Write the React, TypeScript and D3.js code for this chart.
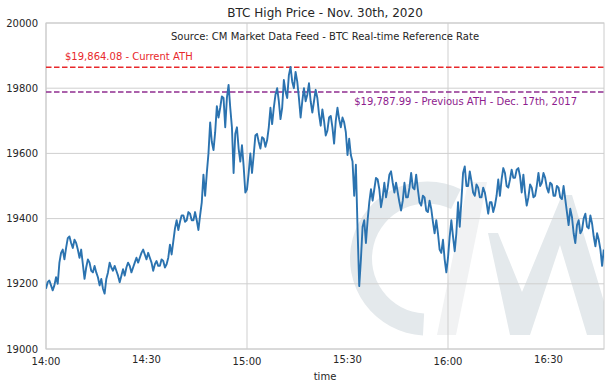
import React from 'react';
import * as d3 from 'd3';

// ---- data ----
const startTime = '2020-11-30T14:00:00';
const endTime = '2020-11-30T16:46:34';
// per-minute low / high of the BTC real-time reference rate, from 14:00
const minuteLow = [
  19185, 19195, 19180, 19200, 19265, 19275, 19310, 19325, 19310, 19305,
  19280, 19215, 19250, 19240, 19235, 19220, 19195, 19170, 19215, 19250,
  19240, 19225, 19205, 19225, 19250, 19235, 19250, 19265, 19280, 19290,
  19275, 19265, 19240, 19255, 19255, 19250, 19260, 19290, 19330, 19365,
  19390, 19390, 19395, 19395, 19395, 19365, 19410, 19470, 19540, 19635,
  19610, 19710, 19740, 19680, 19770, 19680, 19540, 19615, 19575, 19480,
  19490, 19540, 19595, 19635, 19615, 19620, 19640, 19690, 19740, 19760,
  19705, 19790, 19770, 19820, 19800, 19770, 19710, 19760, 19780, 19725,
  19760, 19720, 19685, 19655, 19670, 19680, 19630, 19705, 19680, 19665,
  19595, 19575, 19470, 19193, 19275, 19325, 19395, 19455, 19490, 19490,
  19435, 19465, 19495, 19510, 19480, 19450, 19425, 19465, 19465, 19495,
  19490, 19450, 19440, 19425, 19420, 19390, 19355, 19305, 19295, 19235,
  19280, 19345, 19300, 19375, 19455, 19500, 19500, 19480, 19470, 19465,
  19465, 19450, 19415, 19420, 19440, 19470, 19520, 19500, 19495, 19525,
  19525, 19530, 19480, 19440, 19465, 19465, 19470, 19500, 19510, 19495,
  19480, 19470, 19470, 19465, 19460, 19420, 19380, 19355, 19325, 19355,
  19365, 19375, 19370, 19345, 19315, 19305, 19255,
];
const minuteHigh = [
  19205, 19210, 19195, 19220, 19295, 19305, 19340, 19345, 19335, 19325,
  19305, 19260, 19275, 19265, 19255, 19235, 19215, 19185, 19235, 19265,
  19255, 19240, 19225, 19245, 19265, 19255, 19265, 19280, 19295, 19305,
  19295, 19280, 19260, 19270, 19275, 19270, 19280, 19320, 19370, 19395,
  19410, 19410, 19420, 19415, 19420, 19395, 19450, 19535, 19600, 19695,
  19665, 19745, 19775, 19770, 19810, 19740, 19660, 19680, 19625, 19560,
  19540, 19600, 19655, 19660, 19650, 19645, 19680, 19740, 19780, 19800,
  19740, 19825, 19840, 19865, 19850, 19820, 19760, 19800, 19815, 19760,
  19795, 19770, 19735, 19700, 19710, 19715, 19700, 19740, 19710, 19695,
  19645, 19595, 19565, 19370, 19375, 19395, 19450, 19490, 19525, 19520,
  19465, 19510, 19535, 19545, 19510, 19480, 19455, 19510, 19495, 19540,
  19535, 19490, 19470, 19465, 19455, 19430, 19395, 19355, 19335, 19275,
  19345, 19395, 19355, 19450, 19540, 19560, 19545, 19515, 19505, 19495,
  19495, 19480, 19450, 19450, 19470, 19520, 19555, 19540, 19520, 19550,
  19550, 19555, 19535, 19480, 19505, 19495, 19500, 19540, 19540, 19525,
  19510, 19505, 19500, 19495, 19500, 19460, 19430, 19405, 19380, 19395,
  19400, 19415, 19410, 19385, 19355, 19335, 19305,
];
const yTicks = [19000, 19200, 19400, 19600, 19800, 20000];
const xTickLabels = ['14:00', '14:30', '15:00', '15:30', '16:00', '16:30'];
const currentATH = 19864.08;
const previousATH = 19787.99;
const titleText = 'BTC High Price - Nov. 30th, 2020';
const sourceText = 'Source: CM Market Data Feed - BTC Real-time Reference Rate';
const currentLabel = '$19,864.08 - Current ATH';
const previousLabel = '$19,787.99 - Previous ATH - Dec. 17th, 2017';

// ---- layout ----
const W = 611;
const H = 387;
const M = { left: 46, right: 7, top: 23, bottom: 38 };
const FONT = '"DejaVu Sans", sans-serif';
const TXT = '#262626';

export default function App() {
  const x0 = new Date(startTime);
  const x = d3
    .scaleTime()
    .domain([x0, new Date(endTime)])
    .range([M.left, W - M.right]);
  const y = d3.scaleLinear().domain([19000, 20000]).range([H - M.bottom, M.top]);

  const pts: [Date, number][] = [];
  minuteLow.forEach((lo, i) => {
    const hi = minuteHigh[i];
    const t1 = new Date(x0.getTime() + i * 60000);
    const t2 = new Date(x0.getTime() + i * 60000 + 30000);
    if (i % 2 === 0) {
      pts.push([t1, lo], [t2, hi]);
    } else {
      pts.push([t1, hi], [t2, lo]);
    }
  });
  const line = d3
    .line<[Date, number]>()
    .x((d) => x(d[0]))
    .y((d) => y(d[1]));

  const xTicks = xTickLabels.map((lab) => {
    const [hh, mm] = lab.split(':').map(Number);
    const d = new Date(x0);
    d.setHours(hh, mm, 0, 0);
    return { d, lab, major: mm === 0 };
  });

  const left = M.left;
  const right = W - M.right;
  const top = M.top;
  const bottom = H - M.bottom;
  const cx = (left + right) / 2;

  // watermark logo (decoration, in pixel space)
  const arc = d3.arc()({
    innerRadius: 55,
    outerRadius: 77,
    startAngle: (183 * Math.PI) / 180,
    endAngle: ((360 + 26) * Math.PI) / 180,
  } as any) as string;

  return (
    <svg
      width={W}
      height={H}
      style={{ position: 'absolute', left: 0, top: 0, background: '#fff' }}
      fontFamily={FONT}
    >
      <defs>
        <clipPath id="plot">
          <rect x={left} y={top} width={right - left} height={bottom - top} />
        </clipPath>
      </defs>
      <rect x={0} y={0} width={W} height={H} fill="#fff" />
      <g clipPath="url(#plot)">
        <path d={arc} transform="translate(427,258.5)" fill="#e4e9ec" />
        <polygon points="437,335 456,335 487,182 468,182" fill="#f1f2f3" />
        <polygon
          points="488,233 498,233 522,292 562,195 572,195 614,335 587,335 560,245 530,335 510,335"
          fill="#e4e9ec"
        />
      </g>
      {/* grid */}
      {yTicks.map((t) => (
        <line key={t} x1={left} x2={right} y1={y(t)} y2={y(t)} stroke="#cfcfcf" strokeWidth={1} />
      ))}
      {xTicks
        .filter((t) => t.major)
        .map((t) => (
          <line key={t.lab} x1={x(t.d)} x2={x(t.d)} y1={top} y2={bottom} stroke="#cfcfcf" strokeWidth={1} />
        ))}
      <rect x={left} y={top} width={right - left} height={bottom - top} fill="none" stroke="#cccccc" strokeWidth={1} />

      {/* ATH reference lines */}
      <line
        x1={left}
        x2={right}
        y1={y(currentATH)}
        y2={y(currentATH)}
        stroke="#e8282b"
        strokeWidth={1.5}
        strokeDasharray="5.5 2.5"
      />
      <line
        x1={left}
        x2={right}
        y1={y(previousATH)}
        y2={y(previousATH)}
        stroke="#902e90"
        strokeWidth={1.5}
        strokeDasharray="5.5 2.5"
      />

      {/* price line */}
      <g clipPath="url(#plot)">
        <path d={line(pts) || ''} fill="none" stroke="#2b73b0" strokeWidth={1.9} strokeLinejoin="round" />
      </g>

      {/* annotations */}
      <text x={65} y={y(currentATH) - 7} fontSize={10} fill="#e8282b">
        {currentLabel}
      </text>
      <text x={577} y={y(previousATH) + 13} fontSize={10} fill="#8e1c8e" textAnchor="end">
        {previousLabel}
      </text>
      <text x={cx} y={top + 17} fontSize={10} fill={TXT} textAnchor="middle">
        {sourceText}
      </text>

      {/* y axis labels */}
      {yTicks.map((t) => (
        <text key={t} x={left - 8} y={y(t)} dy="0.35em" fontSize={10} fill={TXT} textAnchor="end">
          {t}
        </text>
      ))}
      {/* x axis labels */}
      {xTicks.map((t) => (
        <text
          key={t.lab}
          x={x(t.d)}
          y={t.major ? bottom + 16 : bottom + 14}
          fontSize={10}
          fill={TXT}
          textAnchor="middle"
        >
          {t.lab}
        </text>
      ))}
      <text x={cx} y={H - 7} fontSize={10} fill={TXT} textAnchor="middle">
        time
      </text>
      <text x={cx} y={17} fontSize={12} fill={TXT} textAnchor="middle">
        {titleText}
      </text>
    </svg>
  );
}
